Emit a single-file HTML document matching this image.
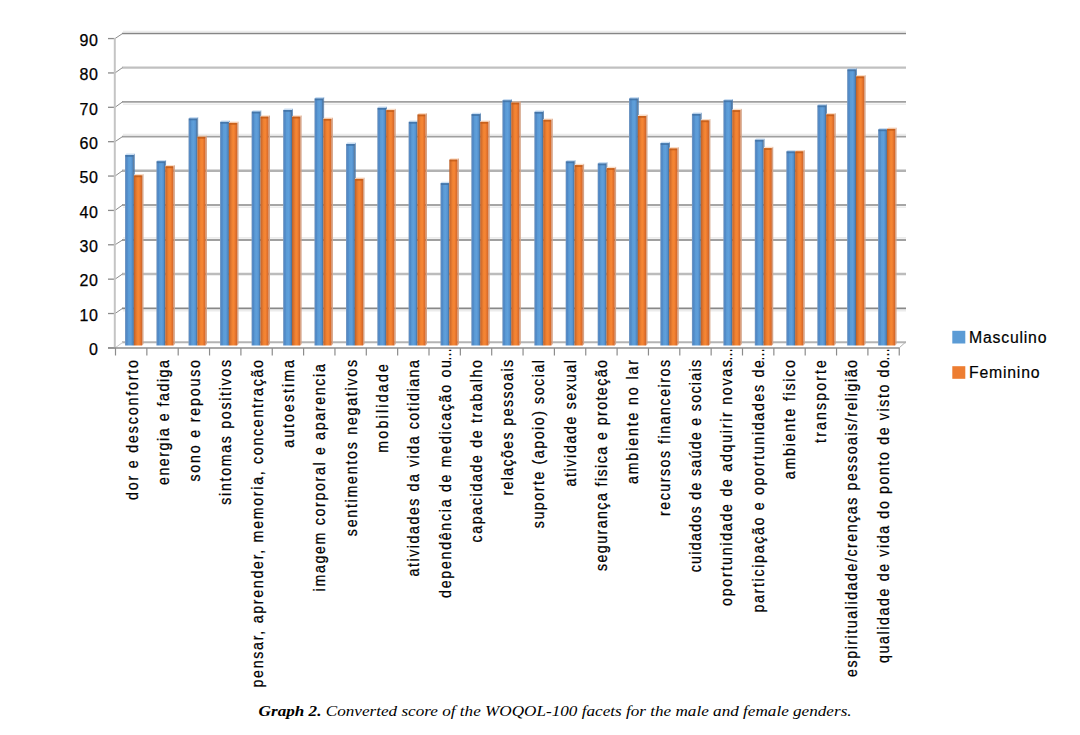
<!DOCTYPE html>
<html><head><meta charset="utf-8"><style>
html,body{margin:0;padding:0;background:#fff;}
body{width:1080px;height:735px;overflow:hidden;position:relative;}
svg{position:absolute;left:0;top:0;}
.yl{font-family:"Liberation Sans",sans-serif;font-size:16px;letter-spacing:0.8px;fill:#000;stroke:#000;stroke-width:0.25px;}
.xl{font-family:"Liberation Sans",sans-serif;font-size:16.5px;fill:#000;stroke:#000;stroke-width:0.25px;}
.lg{font-family:"Liberation Sans",sans-serif;font-size:15.8px;fill:#000;stroke:#000;stroke-width:0.2px;}
.cap{font-family:"Liberation Serif",serif;font-size:15.5px;font-style:italic;fill:#000;}
</style></head><body>
<svg width="1080" height="735" viewBox="0 0 1080 735">
<defs>
<linearGradient id="gb" x1="0" x2="1" y1="0" y2="0">
<stop offset="0" stop-color="#86a2c2"/><stop offset="0.1" stop-color="#5a8cc4"/><stop offset="0.22" stop-color="#4f88c6"/><stop offset="0.38" stop-color="#5b9bd5"/>
<stop offset="0.6" stop-color="#5f9fdb"/><stop offset="0.8" stop-color="#5592cf"/><stop offset="0.92" stop-color="#4d7aa8"/><stop offset="1" stop-color="#5a6f8a"/></linearGradient>
<linearGradient id="go" x1="0" x2="1" y1="0" y2="0">
<stop offset="0" stop-color="#b85f2a"/><stop offset="0.15" stop-color="#d46e2c"/><stop offset="0.4" stop-color="#f08232"/>
<stop offset="0.6" stop-color="#f68634"/><stop offset="0.85" stop-color="#e0702c"/><stop offset="1" stop-color="#cc6428"/></linearGradient>
</defs>

<line x1="122" y1="342.20" x2="906" y2="342.20" stroke="#b4b4b4" stroke-width="2.0"/>
<line x1="115" y1="347.90" x2="123" y2="342.20" stroke="#c8c8c8" stroke-width="1"/>
<line x1="108" y1="347.90" x2="115" y2="347.90" stroke="#8c8c8c" stroke-width="1.3"/>
<text class="yl" x="98.8" y="355.10" text-anchor="end">0</text>
<line x1="123" y1="310.60" x2="906" y2="310.60" stroke="#ececec" stroke-width="1.6"/>
<line x1="122" y1="308.40" x2="906" y2="308.40" stroke="#888888" stroke-width="1.6"/>
<line x1="115" y1="313.53" x2="122.5" y2="308.40" stroke="#8c8c8c" stroke-width="1"/>
<line x1="108" y1="313.53" x2="115" y2="313.53" stroke="#8c8c8c" stroke-width="1.3"/>
<text class="yl" x="98.8" y="320.73" text-anchor="end">10</text>
<line x1="122" y1="274.00" x2="906" y2="274.00" stroke="#bcbcbc" stroke-width="2.4"/>
<line x1="115" y1="279.16" x2="122.5" y2="274.00" stroke="#8c8c8c" stroke-width="1"/>
<line x1="108" y1="279.16" x2="115" y2="279.16" stroke="#8c8c8c" stroke-width="1.3"/>
<text class="yl" x="98.8" y="286.36" text-anchor="end">20</text>
<line x1="123" y1="237.90" x2="906" y2="237.90" stroke="#ececec" stroke-width="1.6"/>
<line x1="122" y1="240.00" x2="906" y2="240.00" stroke="#a0a0a0" stroke-width="1.8"/>
<line x1="115" y1="244.79" x2="122.5" y2="240.00" stroke="#8c8c8c" stroke-width="1"/>
<line x1="108" y1="244.79" x2="115" y2="244.79" stroke="#8c8c8c" stroke-width="1.3"/>
<text class="yl" x="98.8" y="251.99" text-anchor="end">30</text>
<line x1="123" y1="207.30" x2="906" y2="207.30" stroke="#ececec" stroke-width="1.6"/>
<line x1="122" y1="205.00" x2="906" y2="205.00" stroke="#888888" stroke-width="1.6"/>
<line x1="115" y1="210.42" x2="122.5" y2="205.00" stroke="#8c8c8c" stroke-width="1"/>
<line x1="108" y1="210.42" x2="115" y2="210.42" stroke="#8c8c8c" stroke-width="1.3"/>
<text class="yl" x="98.8" y="217.62" text-anchor="end">40</text>
<line x1="122" y1="170.70" x2="906" y2="170.70" stroke="#b2b2b2" stroke-width="2.4"/>
<line x1="115" y1="176.05" x2="122.5" y2="170.70" stroke="#8c8c8c" stroke-width="1"/>
<line x1="108" y1="176.05" x2="115" y2="176.05" stroke="#8c8c8c" stroke-width="1.3"/>
<text class="yl" x="98.8" y="183.25" text-anchor="end">50</text>
<line x1="123" y1="134.50" x2="906" y2="134.50" stroke="#ececec" stroke-width="1.6"/>
<line x1="122" y1="136.60" x2="906" y2="136.60" stroke="#a0a0a0" stroke-width="1.8"/>
<line x1="115" y1="141.68" x2="122.5" y2="136.60" stroke="#8c8c8c" stroke-width="1"/>
<line x1="108" y1="141.68" x2="115" y2="141.68" stroke="#8c8c8c" stroke-width="1.3"/>
<text class="yl" x="98.8" y="148.88" text-anchor="end">60</text>
<line x1="123" y1="104.20" x2="906" y2="104.20" stroke="#ececec" stroke-width="1.6"/>
<line x1="122" y1="101.90" x2="906" y2="101.90" stroke="#a0a0a0" stroke-width="1.8"/>
<line x1="115" y1="107.31" x2="122.5" y2="101.90" stroke="#8c8c8c" stroke-width="1"/>
<line x1="108" y1="107.31" x2="115" y2="107.31" stroke="#8c8c8c" stroke-width="1.3"/>
<text class="yl" x="98.8" y="114.51" text-anchor="end">70</text>
<line x1="122" y1="67.60" x2="906" y2="67.60" stroke="#c0c0c0" stroke-width="2.3"/>
<line x1="115" y1="72.94" x2="122.5" y2="67.60" stroke="#8c8c8c" stroke-width="1"/>
<line x1="108" y1="72.94" x2="115" y2="72.94" stroke="#8c8c8c" stroke-width="1.3"/>
<text class="yl" x="98.8" y="80.14" text-anchor="end">80</text>
<line x1="123" y1="31.55" x2="906" y2="31.55" stroke="#ececec" stroke-width="1.6"/>
<line x1="122" y1="33.55" x2="906" y2="33.55" stroke="#868686" stroke-width="1.5"/>
<line x1="115" y1="38.57" x2="122.5" y2="33.55" stroke="#8c8c8c" stroke-width="1"/>
<line x1="108" y1="38.57" x2="115" y2="38.57" stroke="#8c8c8c" stroke-width="1.3"/>
<text class="yl" x="98.8" y="45.77" text-anchor="end">90</text>
<line x1="114.8" y1="38" x2="114.8" y2="348" stroke="#c4c4c4" stroke-width="2"/>
<polygon points="125.00,155.00 126.40,153.60 134.70,153.60 133.90,155.00" fill="#a9c8ea" opacity="0.6"/>
<polygon points="133.90,155.00 134.70,153.60 134.70,174.00 133.90,175.40" fill="#4a7db3"/>
<rect x="125.00" y="155.00" width="8.9" height="190.50" fill="url(#gb)"/>
<rect x="125.50" y="155.00" width="7.9" height="1.8" fill="#3f6fa3" opacity="0.8"/>
<polygon points="133.90,175.40 135.30,174.00 143.50,174.00 142.10,175.40" fill="#f8c6a0" opacity="0.6"/>
<polygon points="142.10,175.40 143.50,174.00 143.50,344.10 142.10,345.50" fill="#d4a286"/>
<rect x="133.90" y="175.40" width="8.2" height="170.10" fill="url(#go)"/>
<rect x="134.40" y="175.40" width="7.199999999999999" height="1.8" fill="#c05a17" opacity="0.8"/>
<polygon points="156.35,161.30 157.75,159.90 166.05,159.90 165.25,161.30" fill="#a9c8ea" opacity="0.6"/>
<polygon points="165.25,161.30 166.05,159.90 166.05,164.90 165.25,166.30" fill="#4a7db3"/>
<rect x="156.35" y="161.30" width="8.9" height="184.20" fill="url(#gb)"/>
<rect x="156.85" y="161.30" width="7.9" height="1.8" fill="#3f6fa3" opacity="0.8"/>
<polygon points="165.25,166.30 166.65,164.90 174.85,164.90 173.45,166.30" fill="#f8c6a0" opacity="0.6"/>
<polygon points="173.45,166.30 174.85,164.90 174.85,344.10 173.45,345.50" fill="#d4a286"/>
<rect x="165.25" y="166.30" width="8.2" height="179.20" fill="url(#go)"/>
<rect x="165.75" y="166.30" width="7.199999999999999" height="1.8" fill="#c05a17" opacity="0.8"/>
<polygon points="188.45,118.50 189.85,117.10 198.15,117.10 197.35,118.50" fill="#a9c8ea" opacity="0.6"/>
<polygon points="197.35,118.50 198.15,117.10 198.15,135.50 197.35,136.90" fill="#4a7db3"/>
<rect x="188.45" y="118.50" width="8.9" height="227.00" fill="url(#gb)"/>
<rect x="188.95" y="118.50" width="7.9" height="1.8" fill="#3f6fa3" opacity="0.8"/>
<polygon points="197.35,136.90 198.75,135.50 206.95,135.50 205.55,136.90" fill="#f8c6a0" opacity="0.6"/>
<polygon points="205.55,136.90 206.95,135.50 206.95,344.10 205.55,345.50" fill="#d4a286"/>
<rect x="197.35" y="136.90" width="8.2" height="208.60" fill="url(#go)"/>
<rect x="197.85" y="136.90" width="7.199999999999999" height="1.8" fill="#c05a17" opacity="0.8"/>
<polygon points="220.02,121.90 221.42,120.50 229.72,120.50 228.92,121.90" fill="#a9c8ea" opacity="0.6"/>
<polygon points="228.92,121.90 229.72,120.50 229.72,121.50 228.92,122.90" fill="#4a7db3"/>
<rect x="220.02" y="121.90" width="8.9" height="223.60" fill="url(#gb)"/>
<rect x="220.52" y="121.90" width="7.9" height="1.8" fill="#3f6fa3" opacity="0.8"/>
<polygon points="228.92,122.90 230.32,121.50 238.52,121.50 237.12,122.90" fill="#f8c6a0" opacity="0.6"/>
<polygon points="237.12,122.90 238.52,121.50 238.52,344.10 237.12,345.50" fill="#d4a286"/>
<rect x="228.92" y="122.90" width="8.2" height="222.60" fill="url(#go)"/>
<rect x="229.42" y="122.90" width="7.199999999999999" height="1.8" fill="#c05a17" opacity="0.8"/>
<polygon points="251.50,111.65 252.90,110.25 261.20,110.25 260.40,111.65" fill="#a9c8ea" opacity="0.6"/>
<polygon points="260.40,111.65 261.20,110.25 261.20,115.25 260.40,116.65" fill="#4a7db3"/>
<rect x="251.50" y="111.65" width="8.9" height="233.85" fill="url(#gb)"/>
<rect x="252.00" y="111.65" width="7.9" height="1.8" fill="#3f6fa3" opacity="0.8"/>
<polygon points="260.40,116.65 261.80,115.25 270.00,115.25 268.60,116.65" fill="#f8c6a0" opacity="0.6"/>
<polygon points="268.60,116.65 270.00,115.25 270.00,344.10 268.60,345.50" fill="#d4a286"/>
<rect x="260.40" y="116.65" width="8.2" height="228.85" fill="url(#go)"/>
<rect x="260.90" y="116.65" width="7.199999999999999" height="1.8" fill="#c05a17" opacity="0.8"/>
<polygon points="283.10,110.00 284.50,108.60 292.80,108.60 292.00,110.00" fill="#a9c8ea" opacity="0.6"/>
<polygon points="292.00,110.00 292.80,108.60 292.80,115.25 292.00,116.65" fill="#4a7db3"/>
<rect x="283.10" y="110.00" width="8.9" height="235.50" fill="url(#gb)"/>
<rect x="283.60" y="110.00" width="7.9" height="1.8" fill="#3f6fa3" opacity="0.8"/>
<polygon points="292.00,116.65 293.40,115.25 301.60,115.25 300.20,116.65" fill="#f8c6a0" opacity="0.6"/>
<polygon points="300.20,116.65 301.60,115.25 301.60,344.10 300.20,345.50" fill="#d4a286"/>
<rect x="292.00" y="116.65" width="8.2" height="228.85" fill="url(#go)"/>
<rect x="292.50" y="116.65" width="7.199999999999999" height="1.8" fill="#c05a17" opacity="0.8"/>
<polygon points="314.40,98.50 315.80,97.10 324.10,97.10 323.30,98.50" fill="#a9c8ea" opacity="0.6"/>
<polygon points="323.30,98.50 324.10,97.10 324.10,117.50 323.30,118.90" fill="#4a7db3"/>
<rect x="314.40" y="98.50" width="8.9" height="247.00" fill="url(#gb)"/>
<rect x="314.90" y="98.50" width="7.9" height="1.8" fill="#3f6fa3" opacity="0.8"/>
<polygon points="323.30,118.90 324.70,117.50 332.90,117.50 331.50,118.90" fill="#f8c6a0" opacity="0.6"/>
<polygon points="331.50,118.90 332.90,117.50 332.90,344.10 331.50,345.50" fill="#d4a286"/>
<rect x="323.30" y="118.90" width="8.2" height="226.60" fill="url(#go)"/>
<rect x="323.80" y="118.90" width="7.199999999999999" height="1.8" fill="#c05a17" opacity="0.8"/>
<polygon points="346.00,144.00 347.40,142.60 355.70,142.60 354.90,144.00" fill="#a9c8ea" opacity="0.6"/>
<polygon points="354.90,144.00 355.70,142.60 355.70,177.50 354.90,178.90" fill="#4a7db3"/>
<rect x="346.00" y="144.00" width="8.9" height="201.50" fill="url(#gb)"/>
<rect x="346.50" y="144.00" width="7.9" height="1.8" fill="#3f6fa3" opacity="0.8"/>
<polygon points="354.90,178.90 356.30,177.50 364.50,177.50 363.10,178.90" fill="#f8c6a0" opacity="0.6"/>
<polygon points="363.10,178.90 364.50,177.50 364.50,344.10 363.10,345.50" fill="#d4a286"/>
<rect x="354.90" y="178.90" width="8.2" height="166.60" fill="url(#go)"/>
<rect x="355.40" y="178.90" width="7.199999999999999" height="1.8" fill="#c05a17" opacity="0.8"/>
<polygon points="377.25,107.90 378.65,106.50 386.95,106.50 386.15,107.90" fill="#a9c8ea" opacity="0.6"/>
<polygon points="386.15,107.90 386.95,106.50 386.95,108.75 386.15,110.15" fill="#4a7db3"/>
<rect x="377.25" y="107.90" width="8.9" height="237.60" fill="url(#gb)"/>
<rect x="377.75" y="107.90" width="7.9" height="1.8" fill="#3f6fa3" opacity="0.8"/>
<polygon points="386.15,110.15 387.55,108.75 395.75,108.75 394.35,110.15" fill="#f8c6a0" opacity="0.6"/>
<polygon points="394.35,110.15 395.75,108.75 395.75,344.10 394.35,345.50" fill="#d4a286"/>
<rect x="386.15" y="110.15" width="8.2" height="235.35" fill="url(#go)"/>
<rect x="386.65" y="110.15" width="7.199999999999999" height="1.8" fill="#c05a17" opacity="0.8"/>
<polygon points="408.50,121.90 409.90,120.50 418.20,120.50 417.40,121.90" fill="#a9c8ea" opacity="0.6"/>
<rect x="408.50" y="121.90" width="8.9" height="223.60" fill="url(#gb)"/>
<rect x="409.00" y="121.90" width="7.9" height="1.8" fill="#3f6fa3" opacity="0.8"/>
<polygon points="417.40,114.50 418.80,113.10 427.00,113.10 425.60,114.50" fill="#f8c6a0" opacity="0.6"/>
<polygon points="425.60,114.50 427.00,113.10 427.00,344.10 425.60,345.50" fill="#d4a286"/>
<rect x="417.40" y="114.50" width="8.2" height="231.00" fill="url(#go)"/>
<rect x="417.90" y="114.50" width="7.199999999999999" height="1.8" fill="#c05a17" opacity="0.8"/>
<polygon points="440.40,183.15 441.80,181.75 450.10,181.75 449.30,183.15" fill="#a9c8ea" opacity="0.6"/>
<rect x="440.40" y="183.15" width="8.9" height="162.35" fill="url(#gb)"/>
<rect x="440.90" y="183.15" width="7.9" height="1.8" fill="#3f6fa3" opacity="0.8"/>
<polygon points="449.30,159.60 450.70,158.20 458.90,158.20 457.50,159.60" fill="#f8c6a0" opacity="0.6"/>
<polygon points="457.50,159.60 458.90,158.20 458.90,344.10 457.50,345.50" fill="#d4a286"/>
<rect x="449.30" y="159.60" width="8.2" height="185.90" fill="url(#go)"/>
<rect x="449.80" y="159.60" width="7.199999999999999" height="1.8" fill="#c05a17" opacity="0.8"/>
<polygon points="471.25,114.15 472.65,112.75 480.95,112.75 480.15,114.15" fill="#a9c8ea" opacity="0.6"/>
<polygon points="480.15,114.15 480.95,112.75 480.95,120.50 480.15,121.90" fill="#4a7db3"/>
<rect x="471.25" y="114.15" width="8.9" height="231.35" fill="url(#gb)"/>
<rect x="471.75" y="114.15" width="7.9" height="1.8" fill="#3f6fa3" opacity="0.8"/>
<polygon points="480.15,121.90 481.55,120.50 489.75,120.50 488.35,121.90" fill="#f8c6a0" opacity="0.6"/>
<polygon points="488.35,121.90 489.75,120.50 489.75,344.10 488.35,345.50" fill="#d4a286"/>
<rect x="480.15" y="121.90" width="8.2" height="223.60" fill="url(#go)"/>
<rect x="480.65" y="121.90" width="7.199999999999999" height="1.8" fill="#c05a17" opacity="0.8"/>
<polygon points="502.30,100.40 503.70,99.00 512.00,99.00 511.20,100.40" fill="#a9c8ea" opacity="0.6"/>
<polygon points="511.20,100.40 512.00,99.00 512.00,101.25 511.20,102.65" fill="#4a7db3"/>
<rect x="502.30" y="100.40" width="8.9" height="245.10" fill="url(#gb)"/>
<rect x="502.80" y="100.40" width="7.9" height="1.8" fill="#3f6fa3" opacity="0.8"/>
<polygon points="511.20,102.65 512.60,101.25 520.80,101.25 519.40,102.65" fill="#f8c6a0" opacity="0.6"/>
<polygon points="519.40,102.65 520.80,101.25 520.80,344.10 519.40,345.50" fill="#d4a286"/>
<rect x="511.20" y="102.65" width="8.2" height="242.85" fill="url(#go)"/>
<rect x="511.70" y="102.65" width="7.199999999999999" height="1.8" fill="#c05a17" opacity="0.8"/>
<polygon points="534.27,111.90 535.67,110.50 543.97,110.50 543.17,111.90" fill="#a9c8ea" opacity="0.6"/>
<polygon points="543.17,111.90 543.97,110.50 543.97,118.40 543.17,119.80" fill="#4a7db3"/>
<rect x="534.27" y="111.90" width="8.9" height="233.60" fill="url(#gb)"/>
<rect x="534.77" y="111.90" width="7.9" height="1.8" fill="#3f6fa3" opacity="0.8"/>
<polygon points="543.17,119.80 544.57,118.40 552.77,118.40 551.37,119.80" fill="#f8c6a0" opacity="0.6"/>
<polygon points="551.37,119.80 552.77,118.40 552.77,344.10 551.37,345.50" fill="#d4a286"/>
<rect x="543.17" y="119.80" width="8.2" height="225.70" fill="url(#go)"/>
<rect x="543.67" y="119.80" width="7.199999999999999" height="1.8" fill="#c05a17" opacity="0.8"/>
<polygon points="565.60,161.40 567.00,160.00 575.30,160.00 574.50,161.40" fill="#a9c8ea" opacity="0.6"/>
<polygon points="574.50,161.40 575.30,160.00 575.30,163.75 574.50,165.15" fill="#4a7db3"/>
<rect x="565.60" y="161.40" width="8.9" height="184.10" fill="url(#gb)"/>
<rect x="566.10" y="161.40" width="7.9" height="1.8" fill="#3f6fa3" opacity="0.8"/>
<polygon points="574.50,165.15 575.90,163.75 584.10,163.75 582.70,165.15" fill="#f8c6a0" opacity="0.6"/>
<polygon points="582.70,165.15 584.10,163.75 584.10,344.10 582.70,345.50" fill="#d4a286"/>
<rect x="574.50" y="165.15" width="8.2" height="180.35" fill="url(#go)"/>
<rect x="575.00" y="165.15" width="7.199999999999999" height="1.8" fill="#c05a17" opacity="0.8"/>
<polygon points="597.60,163.50 599.00,162.10 607.30,162.10 606.50,163.50" fill="#a9c8ea" opacity="0.6"/>
<polygon points="606.50,163.50 607.30,162.10 607.30,166.75 606.50,168.15" fill="#4a7db3"/>
<rect x="597.60" y="163.50" width="8.9" height="182.00" fill="url(#gb)"/>
<rect x="598.10" y="163.50" width="7.9" height="1.8" fill="#3f6fa3" opacity="0.8"/>
<polygon points="606.50,168.15 607.90,166.75 616.10,166.75 614.70,168.15" fill="#f8c6a0" opacity="0.6"/>
<polygon points="614.70,168.15 616.10,166.75 616.10,344.10 614.70,345.50" fill="#d4a286"/>
<rect x="606.50" y="168.15" width="8.2" height="177.35" fill="url(#go)"/>
<rect x="607.00" y="168.15" width="7.199999999999999" height="1.8" fill="#c05a17" opacity="0.8"/>
<polygon points="629.00,98.50 630.40,97.10 638.70,97.10 637.90,98.50" fill="#a9c8ea" opacity="0.6"/>
<polygon points="637.90,98.50 638.70,97.10 638.70,114.60 637.90,116.00" fill="#4a7db3"/>
<rect x="629.00" y="98.50" width="8.9" height="247.00" fill="url(#gb)"/>
<rect x="629.50" y="98.50" width="7.9" height="1.8" fill="#3f6fa3" opacity="0.8"/>
<polygon points="637.90,116.00 639.30,114.60 647.50,114.60 646.10,116.00" fill="#f8c6a0" opacity="0.6"/>
<polygon points="646.10,116.00 647.50,114.60 647.50,344.10 646.10,345.50" fill="#d4a286"/>
<rect x="637.90" y="116.00" width="8.2" height="229.50" fill="url(#go)"/>
<rect x="638.40" y="116.00" width="7.199999999999999" height="1.8" fill="#c05a17" opacity="0.8"/>
<polygon points="660.25,143.15 661.65,141.75 669.95,141.75 669.15,143.15" fill="#a9c8ea" opacity="0.6"/>
<polygon points="669.15,143.15 669.95,141.75 669.95,147.10 669.15,148.50" fill="#4a7db3"/>
<rect x="660.25" y="143.15" width="8.9" height="202.35" fill="url(#gb)"/>
<rect x="660.75" y="143.15" width="7.9" height="1.8" fill="#3f6fa3" opacity="0.8"/>
<polygon points="669.15,148.50 670.55,147.10 678.75,147.10 677.35,148.50" fill="#f8c6a0" opacity="0.6"/>
<polygon points="677.35,148.50 678.75,147.10 678.75,344.10 677.35,345.50" fill="#d4a286"/>
<rect x="669.15" y="148.50" width="8.2" height="197.00" fill="url(#go)"/>
<rect x="669.65" y="148.50" width="7.199999999999999" height="1.8" fill="#c05a17" opacity="0.8"/>
<polygon points="691.90,113.90 693.30,112.50 701.60,112.50 700.80,113.90" fill="#a9c8ea" opacity="0.6"/>
<polygon points="700.80,113.90 701.60,112.50 701.60,119.00 700.80,120.40" fill="#4a7db3"/>
<rect x="691.90" y="113.90" width="8.9" height="231.60" fill="url(#gb)"/>
<rect x="692.40" y="113.90" width="7.9" height="1.8" fill="#3f6fa3" opacity="0.8"/>
<polygon points="700.80,120.40 702.20,119.00 710.40,119.00 709.00,120.40" fill="#f8c6a0" opacity="0.6"/>
<polygon points="709.00,120.40 710.40,119.00 710.40,344.10 709.00,345.50" fill="#d4a286"/>
<rect x="700.80" y="120.40" width="8.2" height="225.10" fill="url(#go)"/>
<rect x="701.30" y="120.40" width="7.199999999999999" height="1.8" fill="#c05a17" opacity="0.8"/>
<polygon points="723.30,100.40 724.70,99.00 733.00,99.00 732.20,100.40" fill="#a9c8ea" opacity="0.6"/>
<polygon points="732.20,100.40 733.00,99.00 733.00,108.75 732.20,110.15" fill="#4a7db3"/>
<rect x="723.30" y="100.40" width="8.9" height="245.10" fill="url(#gb)"/>
<rect x="723.80" y="100.40" width="7.9" height="1.8" fill="#3f6fa3" opacity="0.8"/>
<polygon points="732.20,110.15 733.60,108.75 741.80,108.75 740.40,110.15" fill="#f8c6a0" opacity="0.6"/>
<polygon points="740.40,110.15 741.80,108.75 741.80,344.10 740.40,345.50" fill="#d4a286"/>
<rect x="732.20" y="110.15" width="8.2" height="235.35" fill="url(#go)"/>
<rect x="732.70" y="110.15" width="7.199999999999999" height="1.8" fill="#c05a17" opacity="0.8"/>
<polygon points="754.75,139.80 756.15,138.40 764.45,138.40 763.65,139.80" fill="#a9c8ea" opacity="0.6"/>
<polygon points="763.65,139.80 764.45,138.40 764.45,146.75 763.65,148.15" fill="#4a7db3"/>
<rect x="754.75" y="139.80" width="8.9" height="205.70" fill="url(#gb)"/>
<rect x="755.25" y="139.80" width="7.9" height="1.8" fill="#3f6fa3" opacity="0.8"/>
<polygon points="763.65,148.15 765.05,146.75 773.25,146.75 771.85,148.15" fill="#f8c6a0" opacity="0.6"/>
<polygon points="771.85,148.15 773.25,146.75 773.25,344.10 771.85,345.50" fill="#d4a286"/>
<rect x="763.65" y="148.15" width="8.2" height="197.35" fill="url(#go)"/>
<rect x="764.15" y="148.15" width="7.199999999999999" height="1.8" fill="#c05a17" opacity="0.8"/>
<polygon points="786.25,151.40 787.65,150.00 795.95,150.00 795.15,151.40" fill="#a9c8ea" opacity="0.6"/>
<rect x="786.25" y="151.40" width="8.9" height="194.10" fill="url(#gb)"/>
<rect x="786.75" y="151.40" width="7.9" height="1.8" fill="#3f6fa3" opacity="0.8"/>
<polygon points="795.15,151.40 796.55,150.00 804.75,150.00 803.35,151.40" fill="#f8c6a0" opacity="0.6"/>
<polygon points="803.35,151.40 804.75,150.00 804.75,344.10 803.35,345.50" fill="#d4a286"/>
<rect x="795.15" y="151.40" width="8.2" height="194.10" fill="url(#go)"/>
<rect x="795.65" y="151.40" width="7.199999999999999" height="1.8" fill="#c05a17" opacity="0.8"/>
<polygon points="817.25,105.40 818.65,104.00 826.95,104.00 826.15,105.40" fill="#a9c8ea" opacity="0.6"/>
<polygon points="826.15,105.40 826.95,104.00 826.95,113.00 826.15,114.40" fill="#4a7db3"/>
<rect x="817.25" y="105.40" width="8.9" height="240.10" fill="url(#gb)"/>
<rect x="817.75" y="105.40" width="7.9" height="1.8" fill="#3f6fa3" opacity="0.8"/>
<polygon points="826.15,114.40 827.55,113.00 835.75,113.00 834.35,114.40" fill="#f8c6a0" opacity="0.6"/>
<polygon points="834.35,114.40 835.75,113.00 835.75,344.10 834.35,345.50" fill="#d4a286"/>
<rect x="826.15" y="114.40" width="8.2" height="231.10" fill="url(#go)"/>
<rect x="826.65" y="114.40" width="7.199999999999999" height="1.8" fill="#c05a17" opacity="0.8"/>
<polygon points="847.10,69.40 848.50,68.00 856.80,68.00 856.00,69.40" fill="#a9c8ea" opacity="0.6"/>
<polygon points="856.00,69.40 856.80,68.00 856.80,75.00 856.00,76.40" fill="#4a7db3"/>
<rect x="847.10" y="69.40" width="8.9" height="276.10" fill="url(#gb)"/>
<rect x="847.60" y="69.40" width="7.9" height="1.8" fill="#3f6fa3" opacity="0.8"/>
<polygon points="856.00,76.40 857.40,75.00 865.60,75.00 864.20,76.40" fill="#f8c6a0" opacity="0.6"/>
<polygon points="864.20,76.40 865.60,75.00 865.60,344.10 864.20,345.50" fill="#d4a286"/>
<rect x="856.00" y="76.40" width="8.2" height="269.10" fill="url(#go)"/>
<rect x="856.50" y="76.40" width="7.199999999999999" height="1.8" fill="#c05a17" opacity="0.8"/>
<polygon points="878.07,129.40 879.47,128.00 887.77,128.00 886.97,129.40" fill="#a9c8ea" opacity="0.6"/>
<rect x="878.07" y="129.40" width="8.9" height="216.10" fill="url(#gb)"/>
<rect x="878.57" y="129.40" width="7.9" height="1.8" fill="#3f6fa3" opacity="0.8"/>
<polygon points="886.97,128.90 888.37,127.50 896.57,127.50 895.17,128.90" fill="#f8c6a0" opacity="0.6"/>
<polygon points="895.17,128.90 896.57,127.50 896.57,344.10 895.17,345.50" fill="#d4a286"/>
<rect x="886.97" y="128.90" width="8.2" height="216.60" fill="url(#go)"/>
<rect x="887.47" y="128.90" width="7.199999999999999" height="1.8" fill="#c05a17" opacity="0.8"/>
<line x1="108" y1="348" x2="899" y2="348" stroke="#8c8c8c" stroke-width="1.3"/>
<line x1="899" y1="348" x2="905.5" y2="342.2" stroke="#b0b0b0" stroke-width="1"/>
<line x1="115.50" y1="348" x2="115.50" y2="355.5" stroke="#8c8c8c" stroke-width="1.2"/>
<line x1="146.85" y1="348" x2="146.85" y2="355.5" stroke="#8c8c8c" stroke-width="1.2"/>
<line x1="178.20" y1="348" x2="178.20" y2="355.5" stroke="#8c8c8c" stroke-width="1.2"/>
<line x1="209.55" y1="348" x2="209.55" y2="355.5" stroke="#8c8c8c" stroke-width="1.2"/>
<line x1="240.90" y1="348" x2="240.90" y2="355.5" stroke="#8c8c8c" stroke-width="1.2"/>
<line x1="272.25" y1="348" x2="272.25" y2="355.5" stroke="#8c8c8c" stroke-width="1.2"/>
<line x1="303.60" y1="348" x2="303.60" y2="355.5" stroke="#8c8c8c" stroke-width="1.2"/>
<line x1="334.95" y1="348" x2="334.95" y2="355.5" stroke="#8c8c8c" stroke-width="1.2"/>
<line x1="366.30" y1="348" x2="366.30" y2="355.5" stroke="#8c8c8c" stroke-width="1.2"/>
<line x1="397.65" y1="348" x2="397.65" y2="355.5" stroke="#8c8c8c" stroke-width="1.2"/>
<line x1="429.00" y1="348" x2="429.00" y2="355.5" stroke="#8c8c8c" stroke-width="1.2"/>
<line x1="460.35" y1="348" x2="460.35" y2="355.5" stroke="#8c8c8c" stroke-width="1.2"/>
<line x1="491.70" y1="348" x2="491.70" y2="355.5" stroke="#8c8c8c" stroke-width="1.2"/>
<line x1="523.05" y1="348" x2="523.05" y2="355.5" stroke="#8c8c8c" stroke-width="1.2"/>
<line x1="554.40" y1="348" x2="554.40" y2="355.5" stroke="#8c8c8c" stroke-width="1.2"/>
<line x1="585.75" y1="348" x2="585.75" y2="355.5" stroke="#8c8c8c" stroke-width="1.2"/>
<line x1="617.10" y1="348" x2="617.10" y2="355.5" stroke="#8c8c8c" stroke-width="1.2"/>
<line x1="648.45" y1="348" x2="648.45" y2="355.5" stroke="#8c8c8c" stroke-width="1.2"/>
<line x1="679.80" y1="348" x2="679.80" y2="355.5" stroke="#8c8c8c" stroke-width="1.2"/>
<line x1="711.15" y1="348" x2="711.15" y2="355.5" stroke="#8c8c8c" stroke-width="1.2"/>
<line x1="742.50" y1="348" x2="742.50" y2="355.5" stroke="#8c8c8c" stroke-width="1.2"/>
<line x1="773.85" y1="348" x2="773.85" y2="355.5" stroke="#8c8c8c" stroke-width="1.2"/>
<line x1="805.20" y1="348" x2="805.20" y2="355.5" stroke="#8c8c8c" stroke-width="1.2"/>
<line x1="836.55" y1="348" x2="836.55" y2="355.5" stroke="#8c8c8c" stroke-width="1.2"/>
<line x1="867.90" y1="348" x2="867.90" y2="355.5" stroke="#8c8c8c" stroke-width="1.2"/>
<line x1="899.25" y1="348" x2="899.25" y2="355.5" stroke="#8c8c8c" stroke-width="1.2"/>
<text class="xl" transform="translate(137.50,500.0) rotate(-90) scale(0.86,1)" textLength="162.8" lengthAdjust="spacing">dor e desconforto</text>
<text class="xl" transform="translate(168.80,485.0) rotate(-90) scale(0.86,1)" textLength="145.3" lengthAdjust="spacing">energia e fadiga</text>
<text class="xl" transform="translate(200.10,481.6) rotate(-90) scale(0.86,1)" textLength="141.4" lengthAdjust="spacing">sono e repouso</text>
<text class="xl" transform="translate(231.40,504.7) rotate(-90) scale(0.86,1)" textLength="168.3" lengthAdjust="spacing">sintomas positivos</text>
<text class="xl" transform="translate(262.70,687.5) rotate(-90) scale(0.86,1)" textLength="380.8" lengthAdjust="spacing">pensar, aprender, memoria, concentração</text>
<text class="xl" transform="translate(294.00,447.8) rotate(-90) scale(0.86,1)" textLength="102.1" lengthAdjust="spacing">autoestima</text>
<text class="xl" transform="translate(325.30,591.4) rotate(-90) scale(0.86,1)" textLength="264.2" lengthAdjust="spacing">imagem corporal e aparencia</text>
<text class="xl" transform="translate(356.60,536.2) rotate(-90) scale(0.86,1)" textLength="204.9" lengthAdjust="spacing">sentimentos negativos</text>
<text class="xl" transform="translate(387.90,452.7) rotate(-90) scale(0.86,1)" textLength="103.1" lengthAdjust="spacing">mobilidade</text>
<text class="xl" transform="translate(419.20,576.5) rotate(-90) scale(0.86,1)" textLength="251.7" lengthAdjust="spacing">atividades da vida cotidiana</text>
<text class="xl" transform="translate(450.50,597.9) rotate(-90) scale(0.86,1)" textLength="276.6" lengthAdjust="spacing">dependência de medicação ou</text>
<text class="xl" transform="translate(450.50,361) rotate(-90)" textLength="13" lengthAdjust="spacingAndGlyphs">…</text>
<text class="xl" transform="translate(481.80,542.6) rotate(-90) scale(0.86,1)" textLength="212.3" lengthAdjust="spacing">capacidade de trabalho</text>
<text class="xl" transform="translate(513.10,495.6) rotate(-90) scale(0.86,1)" textLength="157.7" lengthAdjust="spacing">relações pessoais</text>
<text class="xl" transform="translate(544.40,528.2) rotate(-90) scale(0.86,1)" textLength="195.6" lengthAdjust="spacing">suporte (apoio) social</text>
<text class="xl" transform="translate(575.70,486.6) rotate(-90) scale(0.86,1)" textLength="147.2" lengthAdjust="spacing">atividade sexual</text>
<text class="xl" transform="translate(607.00,571.0) rotate(-90) scale(0.86,1)" textLength="245.3" lengthAdjust="spacing">segurança fisica e proteção</text>
<text class="xl" transform="translate(638.30,484.1) rotate(-90) scale(0.86,1)" textLength="144.3" lengthAdjust="spacing">ambiente no lar</text>
<text class="xl" transform="translate(669.60,516.0) rotate(-90) scale(0.86,1)" textLength="181.4" lengthAdjust="spacing">recursos financeiros</text>
<text class="xl" transform="translate(700.90,572.3) rotate(-90) scale(0.86,1)" textLength="246.9" lengthAdjust="spacing">cuidados de saúde e  sociais</text>
<text class="xl" transform="translate(732.20,605.9) rotate(-90) scale(0.86,1)" textLength="285.9" lengthAdjust="spacing">oportunidade de adquirir novas</text>
<text class="xl" transform="translate(732.20,361) rotate(-90)" textLength="13" lengthAdjust="spacingAndGlyphs">…</text>
<text class="xl" transform="translate(763.50,612.6) rotate(-90) scale(0.86,1)" textLength="293.7" lengthAdjust="spacing">participação e oportunidades de</text>
<text class="xl" transform="translate(763.50,361) rotate(-90)" textLength="13" lengthAdjust="spacingAndGlyphs">…</text>
<text class="xl" transform="translate(794.80,479.2) rotate(-90) scale(0.86,1)" textLength="138.6" lengthAdjust="spacing">ambiente fisico</text>
<text class="xl" transform="translate(826.10,442.9) rotate(-90) scale(0.86,1)" textLength="96.4" lengthAdjust="spacing">transporte</text>
<text class="xl" transform="translate(857.40,676.9) rotate(-90) scale(0.86,1)" textLength="368.5" lengthAdjust="spacing">espiritualidade/crenças pessoais/religião</text>
<text class="xl" transform="translate(888.70,663.0) rotate(-90) scale(0.86,1)" textLength="352.3" lengthAdjust="spacing">qualidade de vida do ponto de visto do</text>
<text class="xl" transform="translate(888.70,361) rotate(-90)" textLength="13" lengthAdjust="spacingAndGlyphs">…</text>
<rect x="952.3" y="330.8" width="13" height="12.7" fill="#5b9bd5"/>
<rect x="952.3" y="366.2" width="13" height="12.6" fill="#ed7d31"/>
<text class="lg" x="969" y="342.8" textLength="77.5" lengthAdjust="spacing">Masculino</text>
<text class="lg" x="969" y="377.5" textLength="70.5" lengthAdjust="spacing">Feminino</text>
<text class="cap" x="258.6" y="716" textLength="593" lengthAdjust="spacingAndGlyphs"><tspan font-weight="bold">Graph 2.</tspan> Converted score of the WOQOL-100 facets for the male and female genders.</text>
</svg>
</body></html>
